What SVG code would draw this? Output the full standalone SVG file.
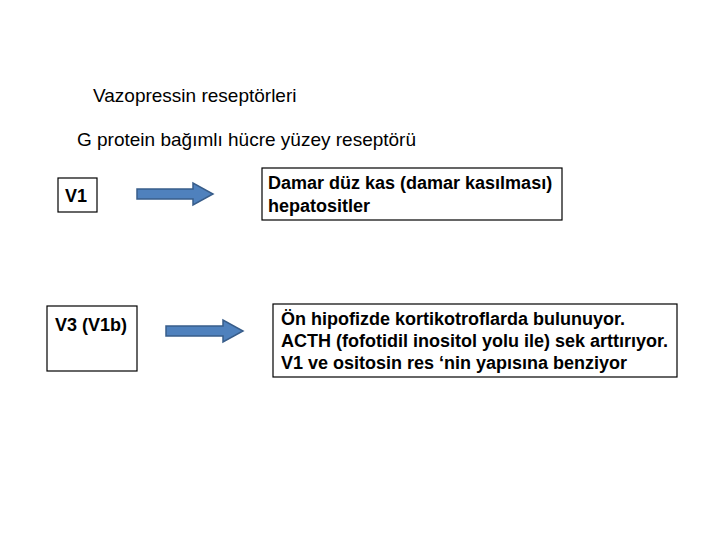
<svg xmlns="http://www.w3.org/2000/svg" width="720" height="540" viewBox="0 0 720 540">
<style>
text{font-family:"Liberation Sans",Arial,sans-serif;font-size:18px;fill:#000}
.t{font-size:19px}
.b{font-weight:bold}
.box{fill:#fff;stroke:#000;stroke-width:1.2}
.arr{fill:#4f81bd;stroke:#385d8a;stroke-width:1.5}
</style>
<rect width="720" height="540" fill="#fff"/>
<g id="title"><text class="t" x="93" y="102">Vazopressin reseptörleri</text></g>
<g id="subtitle"><text class="t" x="77" y="146">G protein bağımlı hücre yüzey reseptörü</text></g>
<g id="v1"><rect class="box" x="58" y="178" width="39" height="34"/><text class="b" x="65" y="202">V1</text></g>
<g id="damar"><rect class="box" x="262" y="168" width="300" height="52"/><text class="b" x="268" y="189">Damar düz kas (damar kasılması)</text><text class="b" x="268" y="212">hepatositler</text></g>
<g id="v3"><rect class="box" x="47" y="306" width="90" height="65"/><text class="b" x="55" y="331">V3 (V1b)</text></g>
<g id="on"><rect class="box" x="273" y="304" width="404" height="73"/><text class="b" x="281" y="325">Ön hipofizde kortikotroflarda bulunuyor.</text><text class="b" x="281" y="347">ACTH (fofotidil inositol yolu ile) sek arttırıyor.</text><text class="b" x="281" y="369">V1 ve ositosin res ‘nin yapısına benziyor</text></g>
<g id="connectors">
<path class="arr" d="M137,189 H193 V183 L213,194 L193,205 V199 H137 Z"/>
<path class="arr" d="M166,326 H223 V320 L243,331 L223,342 V336 H166 Z"/>
</g>
</svg>
